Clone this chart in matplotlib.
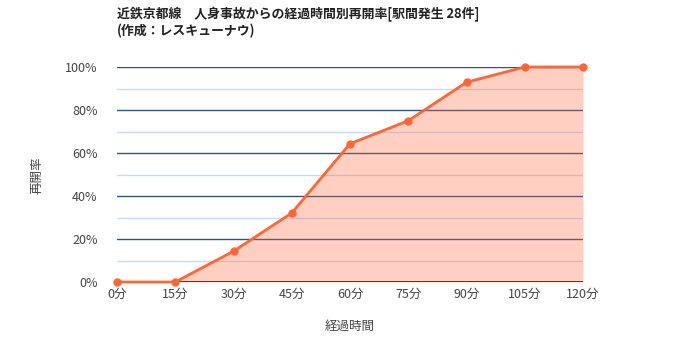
import matplotlib
matplotlib.use("Agg")
import matplotlib.pyplot as plt
from matplotlib.ticker import MultipleLocator, FuncFormatter

plt.rcParams['font.family'] = ['Noto Sans CJK JP', 'DejaVu Sans']

minutes = [0, 15, 30, 45, 60, 75, 90, 105, 120]
x_labels = ["0分", "15分", "30分", "45分", "60分", "75分", "90分", "105分", "120分"]
rate = [0, 0, 14.3, 32.1, 64.3, 75.0, 92.9, 100, 100]

line_color = "#ff6633"

fig = plt.figure(figsize=(7, 3.5), dpi=100)
ax = fig.add_axes([117/700, 1-282/350, (583-117)/700, (282-67)/350])

for v in range(10, 100, 20):
    ax.axhline(v, color="#c6dafc", linewidth=1, zorder=1)
for v in range(20, 101, 20):
    ax.axhline(v, color="#2a5580", linewidth=1, zorder=1)

ax.fill_between(minutes, rate, 0, color=line_color, alpha=0.3, zorder=2, linewidth=0)
ax.axhline(0, color="#1a1a6e", linewidth=1.2, zorder=3)
ax.plot(minutes, rate, color=line_color, linewidth=2, marker="o", markersize=5,
        zorder=4, clip_on=False)

ax.set_xlim(0, 120)
ax.set_ylim(0, 100)
ax.set_xticks(minutes)
ax.set_xticklabels(x_labels)
ax.yaxis.set_major_locator(MultipleLocator(20))
ax.yaxis.set_minor_locator(MultipleLocator(10))
ax.yaxis.set_major_formatter(FuncFormatter(lambda v, p: f"{int(v)}%"))

for s in ax.spines.values():
    s.set_visible(False)
ax.tick_params(axis='both', which='both', length=0, labelsize=9, colors="#444444")
ax.tick_params(axis='x', pad=4)
ax.tick_params(axis='y', pad=14)

ax.set_xlabel("経過時間", fontsize=9, style="italic", color="#444444", labelpad=14)
fig.text(37/700, 1-175/350, "再開率", rotation=90, fontsize=9, style="italic",
         color="#444444", ha="center", va="center")

fig.text(117/700, 1-22/350, "近鉄京都線　人身事故からの経過時間別再開率[駅間発生 28件]\n(作成：レスキューナウ)",
         fontsize=9.3, fontweight="bold", color="#222222", ha="left", va="center", linespacing=1.25)

fig.savefig("out.png", dpi=100)
